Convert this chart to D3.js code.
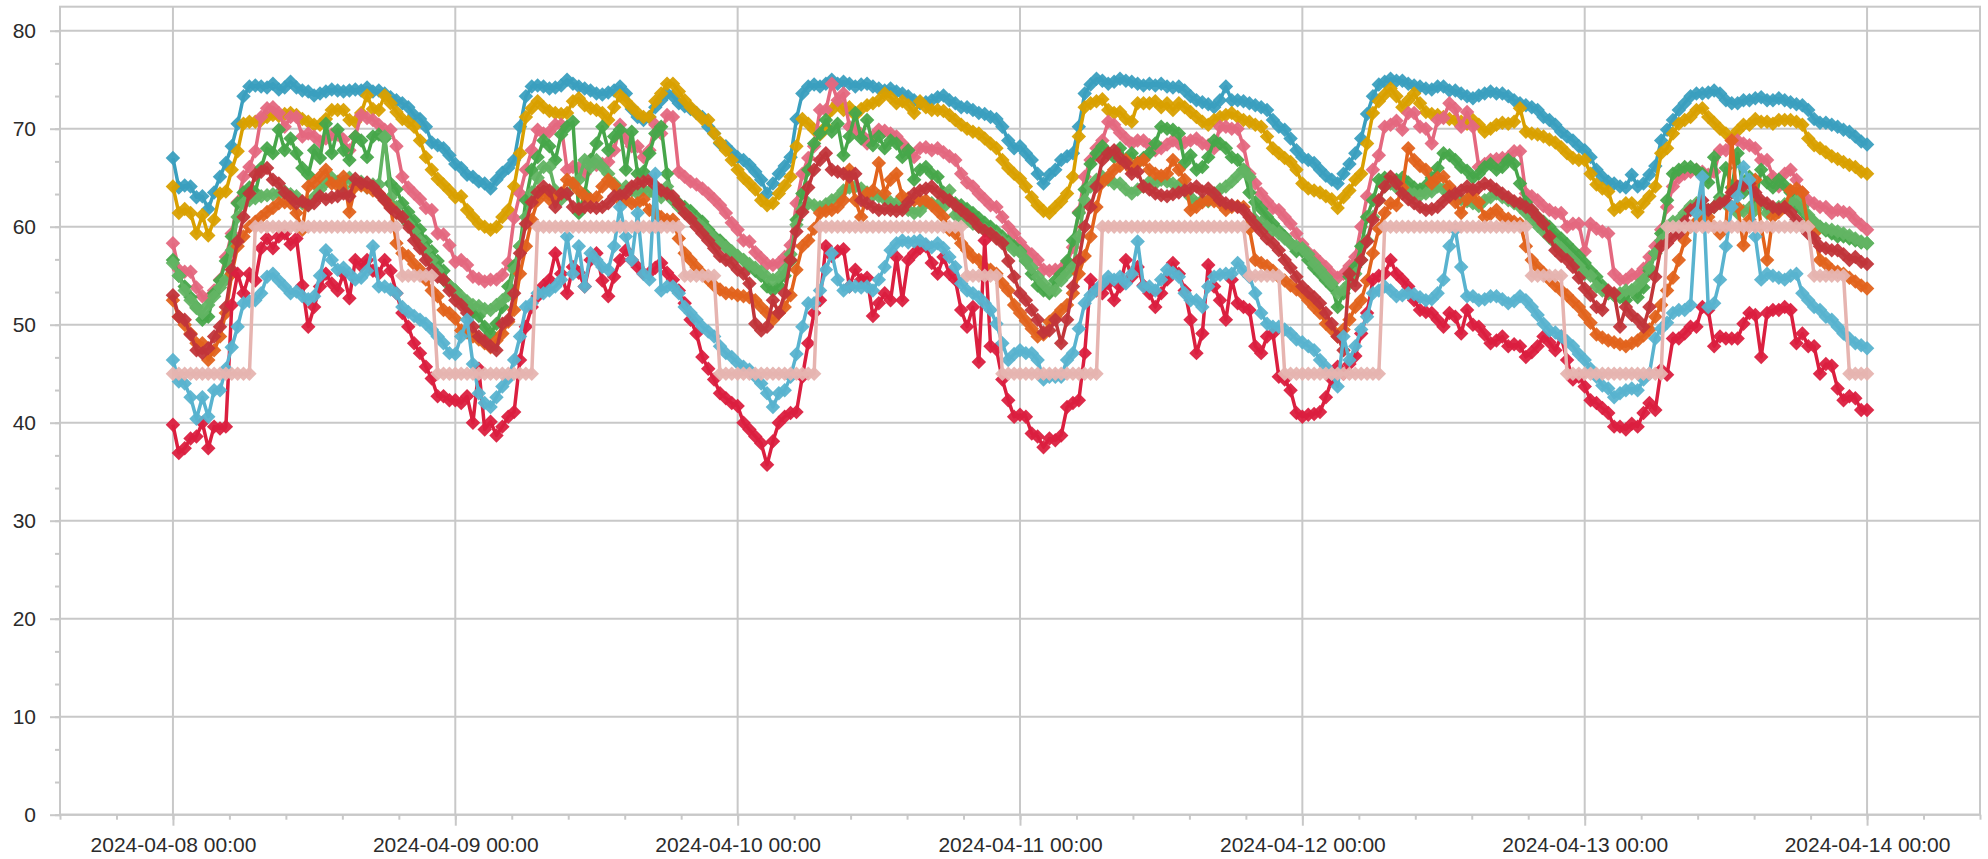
<!DOCTYPE html>
<html>
<head>
<meta charset="utf-8">
<script src="https://cdn.jsdelivr.net/npm/d3@7"></script>
<style>
  html, body { margin: 0; padding: 0; background: #fff; }
  svg { display: block; font-family: "Liberation Sans", Arial, sans-serif; }
</style>
</head>
<body>
<div id="chart"></div>
<script>
// half-hourly readings, 2024-04-08 00:00 .. 2024-04-14 00:00 (289 points per series)
const startTime = Date.UTC(2024, 3, 8, 0, 0)
const stepMinutes = 30

const teal = [
  67.0,64.0,64.2,64.1,63.0,63.1,61.8,63.5,65.1,66.5,68.2,70.5,73.3,74.3,74.4,74.3,74.2,74.6,74.0,74.2,74.8,74.2,73.9,73.8,73.4,73.6,73.8,74.0,73.9,73.8,73.9,74.0,73.9,74.2,73.8,73.9,73.6,73.2,72.9,72.6,72.2,71.4,71.0,70.2,68.6,68.3,68.0,67.3,
  66.4,66.0,65.3,65.1,64.6,64.4,63.9,64.8,65.5,66.0,66.8,70.2,73.3,74.3,74.4,74.3,74.1,74.2,74.4,75.0,74.6,74.3,74.1,73.9,73.6,73.5,73.7,73.9,74.3,73.6,72.0,71.2,70.9,71.2,72.2,72.9,73.6,73.3,72.6,72.3,72.0,71.6,71.2,70.2,69.5,68.5,68.2,67.6,
  67.1,66.8,66.3,65.6,64.8,63.4,64.4,65.4,66.2,67.1,71.0,73.6,74.3,74.5,74.3,74.6,75.0,74.6,74.8,74.6,74.3,74.5,74.6,74.3,74.1,73.9,74.1,73.8,73.6,73.3,72.9,72.6,72.7,72.9,73.2,73.4,72.9,72.6,72.2,72.2,71.9,71.6,71.5,71.2,71.0,70.2,68.8,68.0,
  68.2,67.5,66.8,65.4,64.4,65.3,65.8,66.8,67.2,67.5,70.2,73.6,74.5,75.1,74.9,74.6,74.8,75.1,74.9,74.8,74.6,74.4,74.6,74.4,74.6,74.3,74.2,74.3,73.9,73.3,72.9,72.7,72.5,72.2,72.9,74.3,72.9,72.9,72.8,72.6,72.4,72.2,71.9,70.9,70.2,69.9,69.0,67.8,
  67.1,66.8,66.5,65.8,65.2,64.8,64.4,65.4,66.4,67.5,69.0,71.5,73.3,74.5,74.8,75.1,74.9,74.9,74.6,74.4,74.3,74.1,74.0,74.3,74.3,73.9,73.9,73.6,73.3,73.1,73.4,73.6,73.8,73.6,73.6,73.3,72.9,72.6,72.4,72.2,71.9,71.2,70.9,70.4,69.7,69.2,68.8,68.2,
  67.8,67.1,65.8,65.1,64.6,64.4,64.1,64.0,65.3,64.1,64.4,65.3,66.2,68.8,69.9,70.9,71.9,72.6,73.3,73.6,73.6,73.7,73.9,73.6,72.9,72.6,72.6,72.9,72.9,73.1,73.2,72.9,72.9,73.1,72.9,72.7,72.5,72.4,71.9,71.0,70.6,70.6,70.4,70.2,69.9,69.7,69.2,68.7,68.4
]

const gold = [
  64.1,61.4,61.8,61.4,59.3,61.2,59.1,60.7,63.4,63.6,65.8,67.7,70.5,70.7,70.7,70.9,71.2,71.4,71.3,71.5,71.6,71.4,71.0,70.7,70.4,70.4,71.0,71.9,71.9,71.9,70.9,70.7,71.6,73.4,72.0,71.9,73.4,72.6,71.7,71.0,70.7,70.2,68.8,67.1,65.8,64.9,64.3,63.7,
  63.0,63.1,61.7,61.0,60.3,60.0,59.7,60.0,61.0,61.7,64.1,67.5,71.2,72.1,72.8,72.2,71.8,71.6,71.5,71.6,72.8,73.1,72.4,72.1,71.9,71.6,70.9,72.2,73.4,72.8,72.2,71.6,71.2,71.2,72.8,73.6,74.6,74.6,73.8,72.9,72.2,71.6,71.0,70.9,69.5,68.6,67.8,66.8,
  65.8,65.0,64.4,63.8,62.7,62.2,62.4,63.4,64.2,65.1,68.2,71.0,70.5,69.9,69.4,70.2,71.9,72.6,71.9,72.2,71.4,72.0,72.4,72.6,72.9,73.6,73.2,72.6,72.8,72.4,71.6,72.8,72.2,71.9,71.9,71.8,71.4,70.9,70.4,70.0,69.7,69.5,69.0,68.5,68.0,66.8,66.0,65.4,
  64.9,64.1,63.0,62.2,61.6,61.4,62.0,62.6,63.4,65.1,69.2,72.2,72.6,72.8,73.0,71.9,71.6,71.7,71.0,70.7,72.6,72.6,72.6,72.8,72.2,72.6,71.9,72.6,72.2,71.7,71.2,70.7,70.4,70.9,71.2,71.4,71.6,71.2,70.9,70.7,70.4,70.2,69.2,68.0,67.5,67.0,66.6,65.8,
  64.4,63.9,63.7,63.5,63.1,62.8,61.9,63.0,63.7,64.8,65.4,68.5,71.6,72.8,73.5,74.1,73.3,72.2,72.9,73.6,72.6,71.7,71.5,71.4,71.2,71.0,70.9,70.7,70.5,70.9,70.4,69.7,70.0,70.4,70.6,70.5,70.7,72.1,69.7,69.5,69.4,69.2,68.9,68.6,68.1,67.5,67.0,66.8,
  66.8,65.4,64.3,63.9,63.6,61.7,62.0,62.4,62.4,61.5,62.4,63.1,64.1,67.5,68.0,69.5,70.5,70.9,71.2,71.9,72.1,71.2,70.6,70.0,69.5,69.0,69.8,70.4,70.4,71.0,70.7,70.7,70.5,70.9,70.9,70.9,70.7,70.4,69.0,68.3,68.0,67.6,67.2,66.9,66.6,66.3,66.1,65.6,65.4
]

const pink = [
  58.3,55.6,55.4,55.4,53.8,52.9,52.7,53.5,54.6,56.9,59.3,62.5,65.1,66.1,67.7,71.2,72.1,72.2,71.6,70.2,71.2,71.2,69.2,69.5,69.2,68.7,69.0,69.4,69.4,68.9,67.8,69.2,71.4,71.1,70.9,70.4,69.9,69.9,68.2,65.1,64.0,63.4,62.8,61.9,61.7,59.3,59.2,58.1,
  56.4,56.6,56.1,54.9,54.7,54.4,54.6,54.6,55.1,56.3,60.9,63.4,65.8,67.8,69.9,69.5,69.7,70.4,70.4,65.8,66.1,66.0,65.4,66.8,66.3,66.4,66.6,67.8,70.4,69.0,68.2,68.2,67.1,67.8,70.4,69.5,71.4,71.2,65.6,65.1,64.6,64.3,63.9,63.4,62.8,62.2,61.4,60.4,
  59.7,58.6,58.5,57.4,56.8,56.2,56.1,56.3,56.9,58.1,62.4,65.4,67.0,68.2,71.9,71.9,74.6,72.9,73.6,70.2,70.0,69.4,68.5,69.2,69.9,69.8,69.5,69.2,68.5,67.8,67.1,68.0,68.1,67.8,68.0,67.6,67.2,66.8,65.4,64.5,64.1,63.4,62.8,62.2,62.0,61.0,60.0,59.3,
  58.4,57.6,57.2,56.6,55.6,55.5,55.6,55.7,56.3,57.9,61.5,65.1,66.8,68.0,68.8,70.7,70.4,69.6,69.0,68.5,68.8,68.8,68.3,67.8,68.0,68.4,68.8,68.5,68.6,68.8,69.0,68.5,68.3,68.0,70.2,70.2,70.0,70.0,68.2,65.4,64.4,63.4,62.6,61.9,61.7,61.0,60.3,59.3,
  58.2,57.4,57.0,56.4,55.9,55.2,54.8,55.2,56.0,56.9,60.0,63.1,65.8,67.3,70.2,70.4,70.8,69.9,71.6,71.6,70.2,70.0,68.5,70.9,71.1,72.6,72.0,70.2,71.7,70.2,66.1,66.4,66.8,66.9,67.0,67.1,67.7,67.7,63.4,63.1,62.7,62.1,61.7,61.4,61.4,60.0,60.3,60.3,
  57.5,60.3,59.8,59.5,59.3,55.2,54.6,54.6,55.1,55.0,55.7,56.9,58.0,59.7,62.0,64.1,65.0,65.4,65.6,65.8,65.6,65.3,65.6,67.8,67.8,68.8,68.8,68.5,68.3,68.0,66.8,66.8,65.1,64.1,65.4,65.8,64.8,63.5,62.7,62.4,62.0,62.0,61.4,61.7,61.5,61.4,60.7,60.2,59.7
]

const green = [
  56.6,55.0,53.9,52.8,51.8,50.5,50.8,53.2,54.5,56.5,59.0,62.4,63.5,64.0,63.5,66.0,68.0,67.5,69.9,67.8,69.0,67.5,66.0,65.3,67.8,67.0,70.5,67.5,69.9,67.8,66.8,69.2,68.8,67.1,69.2,69.4,69.0,64.4,63.8,62.4,61.5,60.6,59.7,58.5,57.5,56.5,55.5,54.0,
  53.5,52.5,51.8,51.3,50.9,49.8,49.1,50.1,51.8,53.9,56.0,58.0,62.7,65.8,67.1,68.8,68.2,66.8,69.4,70.2,70.7,61.4,63.4,66.8,68.5,70.2,67.8,69.2,69.9,65.8,69.7,65.4,65.6,67.5,69.5,70.2,65.4,62.7,62.4,62.0,61.6,61.0,60.5,59.7,59.0,58.6,58.0,57.4,
  57.0,56.6,56.0,55.5,55.0,53.9,53.5,54.0,55.0,56.5,60.7,63.4,65.8,68.5,69.5,70.9,69.7,70.5,67.3,69.2,71.6,69.0,70.9,68.3,69.2,68.0,68.8,68.5,67.1,67.8,64.8,65.8,66.1,65.4,65.1,63.5,62.7,62.4,62.2,61.8,61.4,60.9,60.4,60.0,59.5,59.0,58.5,58.0,
  57.5,56.5,55.2,54.0,53.5,53.2,54.5,55.2,56.5,58.6,61.4,63.8,66.4,67.5,68.2,67.5,67.1,68.0,66.8,67.5,66.5,67.0,67.5,68.5,70.2,70.0,69.9,69.5,66.5,67.3,65.8,66.1,67.1,68.8,68.5,68.0,67.1,66.8,65.8,63.5,62.5,61.8,61.0,60.3,59.6,59.0,58.3,57.5,
  57.5,56.6,55.8,55.2,54.5,53.9,51.8,53.2,54.9,55.9,58.0,61.0,62.7,64.8,65.0,64.5,64.8,65.0,64.5,64.0,63.8,64.2,65.0,66.0,67.5,67.3,66.8,66.1,65.7,65.0,65.4,66.1,66.4,65.8,66.1,66.8,66.4,64.4,62.5,61.7,61.0,60.5,60.0,59.3,58.8,58.2,57.6,57.0,
  56.3,55.5,54.9,54.0,53.2,53.0,52.8,52.5,53.5,52.8,53.8,55.5,57.3,59.3,62.7,65.4,65.8,66.1,66.1,65.8,65.4,64.5,67.1,63.0,66.0,64.0,67.5,63.5,65.1,62.5,65.8,64.5,64.0,64.8,64.2,63.5,62.2,61.6,61.0,60.4,60.0,59.6,59.3,59.0,59.0,58.8,58.6,58.4,58.3
]

const lightGreen = [
  56.3,55.0,53.5,52.5,51.7,51.2,52.0,52.9,53.8,54.6,57.6,61.0,62.4,62.7,62.9,63.1,63.2,63.3,63.4,63.6,63.3,63.1,62.4,62.2,63.0,63.8,64.5,65.0,64.6,64.0,65.0,64.3,64.6,64.0,64.3,64.3,69.2,63.0,62.0,61.0,60.3,59.5,58.6,57.6,56.6,55.5,54.6,54.0,
  53.5,52.9,52.4,52.0,51.9,51.6,51.5,52.0,52.5,53.0,55.6,58.0,61.0,63.5,65.0,66.1,66.1,63.7,62.8,63.4,64.4,64.8,66.8,66.1,66.8,66.1,65.4,64.4,63.7,64.1,63.7,63.4,63.8,63.6,63.3,63.0,64.1,62.7,62.0,61.5,61.0,60.5,60.0,59.4,58.8,58.3,57.9,57.5,
  57.0,56.6,56.2,55.8,55.4,54.9,54.6,54.9,55.6,57.2,60.2,61.8,62.4,62.2,62.0,62.3,62.7,63.0,63.7,64.0,64.1,63.9,63.5,63.2,63.1,62.8,62.5,62.4,62.0,61.7,61.4,61.6,62.4,62.4,62.2,62.0,63.7,61.2,60.9,60.6,60.3,60.0,59.7,59.4,59.0,58.6,58.2,57.6,
  57.4,56.6,55.8,54.9,54.2,53.6,53.5,54.5,55.2,55.9,59.0,62.7,64.1,64.8,65.1,64.8,64.4,64.4,63.8,63.4,63.8,64.1,64.6,64.4,64.8,64.6,64.4,64.2,63.7,63.0,62.4,62.7,62.6,63.4,63.8,64.1,64.6,65.2,65.8,65.1,60.7,60.4,60.0,59.6,59.3,58.8,58.3,58.0,
  57.8,57.2,56.3,55.6,54.9,54.2,53.2,53.6,54.2,55.2,56.6,58.6,61.0,62.7,64.1,64.4,64.0,63.7,63.5,63.3,63.2,63.4,63.6,64.1,63.8,63.4,63.1,62.8,62.6,62.4,62.1,62.7,63.0,63.4,63.0,62.7,62.4,62.0,61.4,60.7,60.1,59.5,58.9,58.3,57.8,57.2,56.6,56.0,
  55.2,55.0,53.9,53.5,53.2,53.0,53.2,53.5,53.5,54.0,54.6,55.8,57.3,58.6,60.0,60.5,60.7,61.4,62.1,62.4,62.0,61.7,62.0,62.7,62.3,62.0,61.4,61.6,61.9,61.7,62.4,61.4,61.7,62.0,62.3,62.5,62.7,62.0,61.2,60.5,60.0,59.8,59.7,59.5,59.3,59.1,58.8,58.5,58.3
]

const orange = [
  52.5,50.8,50.0,49.1,48.1,48.1,46.4,47.4,48.8,51.2,55.2,58.0,59.0,60.0,60.5,61.0,61.5,61.9,62.4,62.5,62.4,61.4,59.7,64.1,64.5,65.1,65.8,64.4,64.2,65.1,61.5,64.1,64.2,64.0,63.7,63.4,62.7,62.0,58.3,57.3,57.0,56.2,55.6,54.6,53.5,52.9,51.5,51.2,
  50.6,49.4,49.2,48.8,48.5,48.1,47.7,48.4,49.1,50.3,51.5,55.2,58.0,60.7,62.7,63.4,62.8,63.0,63.4,64.8,64.4,63.7,63.1,62.8,63.0,64.1,64.8,64.2,62.7,62.7,62.4,62.4,62.8,61.7,61.4,61.0,60.7,60.7,58.8,57.3,56.6,55.9,55.2,54.6,54.0,53.6,53.2,53.2,
  53.0,52.9,52.8,52.5,51.8,51.2,50.5,51.2,51.8,53.0,55.6,58.0,58.6,59.8,61.4,61.6,61.7,62.0,62.7,65.8,62.7,61.0,63.4,63.7,66.5,63.4,64.8,65.4,63.1,62.9,62.7,62.7,62.7,62.2,61.6,61.0,59.7,59.3,58.3,57.6,56.9,56.6,55.9,55.6,55.2,54.2,53.5,52.0,
  51.2,50.4,49.6,48.8,49.0,50.3,50.8,51.5,52.0,53.2,55.2,57.0,59.0,62.0,64.5,65.1,65.8,66.2,66.8,65.8,66.5,66.8,65.8,65.4,65.2,65.4,66.8,65.8,64.8,61.7,62.0,62.5,62.7,62.6,62.4,61.7,62.0,62.1,62.0,59.8,56.6,56.3,56.0,55.5,54.9,54.5,54.0,53.6,
  53.2,52.5,51.8,51.2,50.1,49.5,48.8,49.5,50.5,51.8,52.5,54.5,57.3,59.8,61.4,62.4,62.2,64.0,68.0,66.8,66.2,65.8,64.4,65.0,65.1,64.1,62.5,61.4,62.8,63.4,62.5,61.0,61.3,61.7,61.0,60.8,60.5,60.3,58.0,56.6,55.9,55.3,54.6,54.0,53.5,53.0,52.4,51.8,
  51.0,50.2,49.0,48.7,48.4,48.2,48.0,47.8,48.1,48.4,48.9,49.5,50.8,52.0,53.5,54.8,56.6,58.6,60.0,60.5,61.0,61.0,60.0,59.3,60.0,68.8,62.0,58.1,60.7,64.8,60.0,56.6,61.0,61.5,62.0,63.7,63.9,63.5,60.0,59.3,56.6,56.2,55.6,55.4,55.2,54.8,54.4,54.0,53.7
]

const brick = [
  53.0,50.8,50.5,49.0,47.4,47.1,47.6,48.8,49.8,51.8,55.6,58.5,61.0,63.4,65.3,65.6,66.0,64.8,64.4,63.5,63.0,62.4,62.6,62.2,62.4,63.1,62.8,63.0,63.1,63.4,63.1,64.9,64.4,64.5,64.1,63.4,62.7,61.9,61.4,61.0,60.0,58.6,57.8,56.6,55.6,54.9,54.6,53.5,
  52.5,52.0,51.2,49.8,48.8,48.3,47.8,47.4,50.1,50.5,53.2,57.3,60.3,62.5,63.5,64.1,63.7,62.0,63.4,63.4,62.0,61.8,62.0,62.0,61.9,62.0,62.4,63.1,63.2,63.4,64.1,64.4,64.6,64.8,64.2,63.7,63.4,63.1,62.3,61.4,60.8,60.0,59.3,58.6,57.8,57.0,56.6,56.3,
  55.6,55.2,54.2,50.1,49.4,49.8,52.5,51.2,53.2,56.6,59.5,61.5,64.0,65.8,66.8,67.5,65.8,65.6,65.4,65.1,65.4,62.7,62.4,62.0,61.7,61.8,61.7,61.6,61.7,62.5,63.4,63.7,63.9,64.1,63.5,63.0,62.7,62.2,61.7,61.2,60.7,60.0,59.6,59.3,58.8,58.3,56.5,54.9,
  53.2,52.5,51.5,50.5,49.2,49.4,50.5,48.1,50.5,53.9,56.6,60.0,62.0,64.1,66.8,67.5,67.8,67.0,66.5,65.4,65.6,64.1,63.8,63.4,63.2,63.1,63.3,63.5,63.7,63.9,64.1,63.6,63.9,63.4,62.7,62.4,62.2,62.0,61.7,61.0,60.2,59.5,58.8,58.3,57.6,56.6,55.8,54.9,
  53.9,53.3,52.8,52.2,51.2,50.1,48.8,47.4,55.2,54.0,56.6,58.5,60.7,62.7,64.1,65.1,64.4,63.4,62.8,62.4,62.0,61.7,61.8,62.0,62.6,63.1,63.4,63.7,64.1,63.8,64.0,64.4,64.2,63.8,63.4,63.0,62.6,62.4,62.0,61.7,61.0,60.3,59.0,57.6,57.0,56.6,55.9,54.8,
  53.7,53.0,51.8,51.5,53.5,53.2,49.8,51.8,51.0,50.5,49.8,51.8,54.9,58.0,58.3,59.0,59.3,60.5,61.7,62.0,62.7,61.7,62.0,62.4,62.6,63.5,64.1,64.2,64.4,63.5,62.7,62.4,62.0,61.8,62.0,61.5,60.7,60.0,59.3,58.8,58.0,57.8,57.6,57.6,57.2,56.6,56.9,56.4,56.2
]

const crimson = [
  39.8,36.9,37.4,38.4,38.6,40.0,37.4,39.6,39.4,39.6,52.0,55.2,53.2,55.2,54.5,57.8,58.8,57.8,59.0,59.3,58.2,58.8,54.0,49.8,51.8,53.9,55.2,54.2,53.5,55.2,52.7,56.6,56.0,56.6,55.5,55.2,56.6,55.5,53.2,51.2,49.8,48.1,47.1,45.7,44.5,42.7,42.7,42.3,
  42.3,42.0,42.7,40.0,45.5,39.3,40.1,38.7,39.6,40.6,41.1,46.4,49.8,51.8,52.9,54.0,54.6,57.3,55.2,53.2,55.9,55.3,53.9,56.6,57.3,54.5,52.9,54.9,56.6,57.6,56.6,55.9,55.2,55.3,55.8,56.3,55.3,54.6,53.5,52.2,50.5,49.1,46.7,45.5,44.4,43.0,42.5,42.0,
  41.7,40.0,39.3,38.6,37.9,35.7,38.1,40.0,40.6,41.0,41.1,44.7,48.1,51.2,52.5,58.0,57.0,57.5,57.7,53.9,55.6,54.6,54.8,50.9,52.2,53.2,52.5,56.9,52.5,56.6,57.3,57.8,58.0,56.3,55.2,56.9,55.2,54.6,51.5,49.8,51.8,46.2,58.6,47.8,47.5,44.4,42.3,40.6,
  40.8,40.6,38.9,38.6,37.5,38.4,38.2,38.7,41.6,42.0,42.3,47.1,54.6,53.5,53.2,54.2,52.5,53.9,56.6,54.9,55.9,54.0,53.2,51.8,53.2,54.6,56.3,55.2,53.5,50.5,47.1,49.1,56.1,53.9,52.5,50.5,54.6,52.2,51.8,51.5,47.8,47.1,48.8,49.1,44.7,44.4,43.3,41.0,
  40.6,40.8,40.9,41.1,42.6,44.4,45.7,45.0,46.0,46.8,49.1,51.2,54.6,55.0,55.2,56.6,55.2,54.6,53.9,52.5,51.5,51.3,51.2,50.5,49.8,51.2,50.8,49.1,51.5,50.0,49.8,49.0,48.1,48.4,48.8,47.8,48.0,47.8,46.7,47.2,47.8,48.8,48.2,47.4,48.8,46.4,44.4,44.7,
  43.7,42.3,42.0,41.5,41.0,39.6,39.6,39.3,39.9,39.6,41.0,42.0,41.3,45.4,44.9,48.6,48.6,49.1,49.8,49.8,51.8,51.5,47.8,48.8,48.6,48.6,48.6,50.1,51.2,51.0,46.7,51.2,51.5,51.5,51.8,51.5,48.1,49.1,47.8,47.8,45.0,46.0,45.8,43.5,42.3,42.7,42.5,41.3,41.3
]

const lightBlue = [
  46.4,44.2,44.0,42.6,40.4,42.6,40.6,43.3,43.3,45.5,47.7,49.8,52.2,52.4,52.5,53.2,54.9,55.2,54.5,53.9,53.2,53.4,52.9,52.6,52.9,55.0,57.6,56.6,55.6,55.8,55.2,54.6,54.8,55.5,58.0,53.9,53.9,53.6,53.2,51.8,51.3,50.9,50.5,50.1,49.5,48.8,48.1,47.1,
  47.0,48.8,50.5,46.0,43.0,42.0,41.6,42.6,43.7,44.5,46.4,48.8,51.8,52.2,53.2,53.2,53.5,53.9,54.6,59.0,55.2,58.0,53.9,57.3,56.6,55.9,55.6,58.0,62.0,59.0,56.6,61.4,55.2,54.6,65.4,53.5,53.9,53.9,53.2,51.8,51.2,50.5,49.8,49.3,48.8,47.8,47.1,46.7,
  46.1,45.7,45.4,44.7,44.0,43.0,41.6,43.0,43.3,44.7,47.0,49.8,52.2,52.2,53.5,55.6,57.3,54.6,53.5,53.9,53.9,53.8,53.9,53.5,54.6,55.9,57.6,58.3,58.6,58.4,58.5,58.6,58.2,57.9,58.3,57.8,56.9,55.9,54.2,53.5,53.2,52.8,52.2,51.5,50.1,48.1,46.4,47.0,
  47.4,47.1,47.1,46.4,44.4,44.7,44.7,44.7,46.4,47.1,49.6,52.2,53.0,53.6,54.2,54.9,54.6,54.9,54.2,55.2,58.5,53.9,53.9,53.5,54.6,55.6,55.3,54.9,53.2,52.5,52.5,51.8,53.9,54.9,55.1,55.2,55.2,56.3,55.5,54.9,53.2,51.2,50.1,49.8,49.8,49.5,49.1,48.5,
  48.2,47.8,47.4,46.4,45.7,45.0,43.7,48.8,46.4,47.8,49.5,50.8,53.2,53.5,53.9,53.5,52.9,53.0,53.2,53.1,52.8,52.5,52.6,53.2,54.6,58.0,59.7,55.9,52.9,52.9,52.5,52.6,52.9,52.9,52.6,52.2,52.4,52.9,52.5,51.8,51.0,50.1,49.4,49.2,48.8,48.3,47.8,47.0,
  46.4,45.5,44.7,43.8,43.5,42.6,43.0,43.3,43.5,43.3,44.4,45.0,48.6,49.6,50.2,51.2,51.5,51.5,52.0,61.4,65.1,51.8,52.2,54.6,58.0,62.0,63.1,66.1,64.8,59.0,54.6,55.2,55.0,54.8,54.6,55.0,55.2,53.2,52.5,51.8,51.5,50.8,50.5,49.8,49.1,48.6,48.1,47.9,47.6
]

const setpoint = [
  45,45,45,45,45,45,45,45,45,45,45,45,45,45,60,60,60,60,60,60,60,60,60,60,60,60,60,60,60,60,60,60,60,60,60,60,60,60,60,55,55,55,55,55,55,45,45,45,
  45,45,45,45,45,45,45,45,45,45,45,45,45,45,60,60,60,60,60,60,60,60,60,60,60,60,60,60,60,60,60,60,60,60,60,60,60,60,60,55,55,55,55,55,55,45,45,45,
  45,45,45,45,45,45,45,45,45,45,45,45,45,45,60,60,60,60,60,60,60,60,60,60,60,60,60,60,60,60,60,60,60,60,60,60,60,60,60,55,55,55,55,55,55,45,45,45,
  45,45,45,45,45,45,45,45,45,45,45,45,45,45,60,60,60,60,60,60,60,60,60,60,60,60,60,60,60,60,60,60,60,60,60,60,60,60,60,55,55,55,55,55,55,45,45,45,
  45,45,45,45,45,45,45,45,45,45,45,45,45,45,60,60,60,60,60,60,60,60,60,60,60,60,60,60,60,60,60,60,60,60,60,60,60,60,60,55,55,55,55,55,55,45,45,45,
  45,45,45,45,45,45,45,45,45,45,45,45,45,45,60,60,60,60,60,60,60,60,60,60,60,60,60,60,60,60,60,60,60,60,60,60,60,60,60,55,55,55,55,55,55,45,45,45,
  45
]

const yTicks = [0, 10, 20, 30, 40, 50, 60, 70, 80]
const dayTicks = ['2024-04-08', '2024-04-09', '2024-04-10', '2024-04-11', '2024-04-12', '2024-04-13', '2024-04-14']

// drawing order: later series sit on top
const series = [
  {name: 'teal', values: teal, color: '#3a9fbf'},
  {name: 'gold', values: gold, color: '#d9a000'},
  {name: 'pink', values: pink, color: '#e4687f'},
  {name: 'green', values: green, color: '#47a64a'},
  {name: 'lightGreen', values: lightGreen, color: '#62b463'},
  {name: 'orange', values: orange, color: '#e2631c'},
  {name: 'brick', values: brick, color: '#c1353a'},
  {name: 'crimson', values: crimson, color: '#db1f3f'},
  {name: 'lightBlue', values: lightBlue, color: '#59b3cf'},
  {name: 'setpoint', values: setpoint, color: '#e6b4b0'}
]

const width = 1988
const height = 859
const plot = {left: 60, right: 1980, top: 6.7, bottom: 814.7}
const axisColor = '#c8c8c8'
const textColor = '#2b2b2b'
const labelFont = '21px "Liberation Sans", Arial, sans-serif'

const times = setpoint.map((_, i) => new Date(startTime + i * stepMinutes * 60000))
const parseDay = d3.utcParse('%Y-%m-%d')
const dayDates = dayTicks.map(parseDay)

// 9.6 h padding either side (two minor tick steps)
const pad = 9.6 * 3600000
const x = d3.scaleUtc()
    .domain([new Date(+dayDates[0] - pad), new Date(+dayDates[dayDates.length - 1] + pad)])
    .range([plot.left, plot.right])

const y = d3.scaleLinear()
    .domain([0, 82.45])
    .range([plot.bottom, plot.top])

const svg = d3.select('#chart').append('svg')
    .attr('width', width)
    .attr('height', height)
    .attr('viewBox', [0, 0, width, height])

//grid lines
const grid = svg.append('g')
    .attr('stroke', axisColor)
    .attr('stroke-width', 2)
grid.selectAll('line.h')
    .data(yTicks)
    .join('line')
    .attr('class', 'h')
    .attr('x1', plot.left).attr('x2', plot.right)
    .attr('y1', d => y(d)).attr('y2', d => y(d))
grid.selectAll('line.v')
    .data(dayDates)
    .join('line')
    .attr('class', 'v')
    .attr('x1', d => x(d)).attr('x2', d => x(d))
    .attr('y1', plot.top).attr('y2', plot.bottom)

//frame
svg.append('rect')
    .attr('x', plot.left).attr('y', plot.top)
    .attr('width', plot.right - plot.left).attr('height', plot.bottom - plot.top)
    .attr('fill', 'none')
    .attr('stroke', axisColor)
    .attr('stroke-width', 2)

//minor ticks
const minorX = d3.range(0, 35).map(k => new Date(+x.domain()[0] + k * 4.8 * 3600000))
    .filter(d => d <= x.domain()[1])
const minorY = d3.range(0, 25).map(k => k * 10 / 3)

svg.append('g')
    .attr('transform', `translate(0,${plot.bottom})`)
    .call(d3.axisBottom(x).tickValues(minorX).tickSize(5).tickFormat(''))
    .call(g => g.select('.domain').remove())
    .call(g => g.selectAll('.tick line').attr('stroke', axisColor).attr('stroke-width', 2))

svg.append('g')
    .attr('transform', `translate(${plot.left},0)`)
    .call(d3.axisLeft(y).tickValues(minorY).tickSize(5).tickFormat(''))
    .call(g => g.select('.domain').remove())
    .call(g => g.selectAll('.tick line').attr('stroke', axisColor).attr('stroke-width', 2))

//major axes
const fmt = d3.utcFormat('%Y-%m-%d %H:%M')
svg.append('g')
    .attr('transform', `translate(0,${plot.bottom})`)
    .call(d3.axisBottom(x).tickValues(dayDates).tickSize(11).tickPadding(11).tickFormat(fmt))
    .call(g => g.select('.domain').remove())
    .call(g => g.selectAll('.tick line').attr('stroke', axisColor).attr('stroke-width', 2))
    .call(g => g.selectAll('.tick text')
        .attr('fill', textColor)
        .style('font', labelFont))

svg.append('g')
    .attr('transform', `translate(${plot.left},0)`)
    .call(d3.axisLeft(y).tickValues(yTicks).tickSize(10).tickPadding(14))
    .call(g => g.select('.domain').remove())
    .call(g => g.selectAll('.tick line').attr('stroke', axisColor).attr('stroke-width', 2))
    .call(g => g.selectAll('.tick text')
        .attr('fill', textColor)
        .style('font', labelFont))

//series
const line = d3.line()
    .x((d, i) => x(times[i]))
    .y(d => y(d))

const diamond = d3.symbol(d3.symbolSquare, 105)

const groups = svg.append('g')
    .selectAll('g')
    .data(series)
    .join('g')

groups.append('path')
    .attr('d', d => line(d.values))
    .attr('fill', 'none')
    .attr('stroke', d => d.color)
    .attr('stroke-width', 3.5)
    .attr('stroke-linejoin', 'round')

groups.each(function (s) {
    d3.select(this).selectAll('path.mark')
        .data(s.values)
        .join('path')
        .attr('class', 'mark')
        .attr('d', diamond)
        .attr('transform', (d, i) => `translate(${x(times[i])},${y(d)}) rotate(45)`)
        .attr('fill', s.color)
        .attr('fill-opacity', 0.95)
})
</script>
</body>
</html>
